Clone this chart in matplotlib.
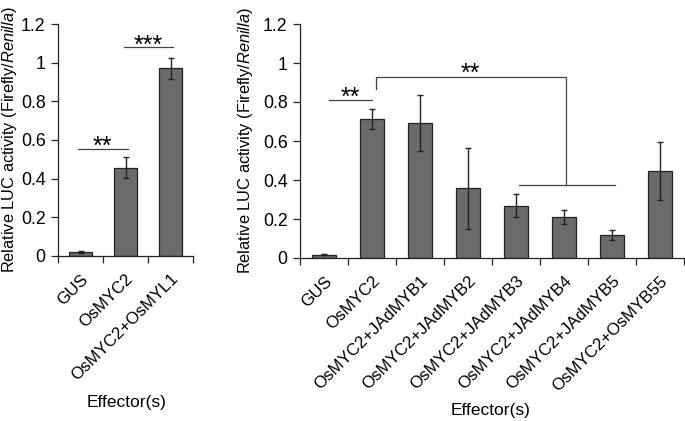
import matplotlib
matplotlib.use("Agg")
import matplotlib.pyplot as plt
import numpy as np
from matplotlib.ticker import FuncFormatter

plt.rcParams['font.family'] = ['Liberation Sans', 'DejaVu Sans']
plt.rcParams['mathtext.fontset'] = 'custom'
plt.rcParams['mathtext.rm'] = 'Liberation Sans'
plt.rcParams['mathtext.it'] = 'Liberation Sans:italic'

left_cats = ["GUS", "OsMYC2", "OsMYC2+OsMYL1"]
left_vals = [0.022, 0.457, 0.970]
left_errs = [0.004, 0.053, 0.055]

right_cats = ["GUS", "OsMYC2", "OsMYC2+JAdMYB1", "OsMYC2+JAdMYB2", "OsMYC2+JAdMYB3",
              "OsMYC2+JAdMYB4", "OsMYC2+JAdMYB5", "OsMYC2+OsMYB55"]
right_vals = [0.017, 0.712, 0.692, 0.358, 0.268, 0.210, 0.118, 0.446]
right_errs = [0.002, 0.051, 0.143, 0.208, 0.060, 0.038, 0.027, 0.150]

yticks = [0, 0.2, 0.4, 0.6, 0.8, 1.0, 1.2]

fig = plt.figure(figsize=(6.85, 4.21), dpi=100)
ax1 = fig.add_axes([58/685, 1-256/421, 135/685, 232/421])
ax2 = fig.add_axes([300/685, 1-258/421, 384/685, 234/421])

bar_color = "#6b6b6b"
edge = "#222222"

def style(ax, cats, vals, errs, width):
    x = np.arange(len(cats))
    ax.bar(x, vals, width=width, color=bar_color, edgecolor=edge, linewidth=0.9)
    ax.errorbar(x, vals, yerr=errs, fmt='none', ecolor=edge, elinewidth=1.0, capsize=2.2, capthick=1.0)
    ax.set_xlim(-0.5, len(cats) - 0.5)
    ax.set_ylim(0, 1.2)
    ax.set_yticks(yticks)
    ax.yaxis.set_major_formatter(FuncFormatter(lambda v, p: "%g" % round(v, 1)))
    ax.set_xticks(x)
    ax.set_xticklabels(cats, rotation=45, ha='right', rotation_mode='anchor', fontsize=12.2)
    ax.tick_params(axis='x', which='major', length=0, pad=11)
    ax.set_xticks(np.arange(len(cats) + 1) - 0.5, minor=True)
    ax.tick_params(axis='x', which='minor', length=5, width=0.9, color=edge)
    ax.tick_params(axis='y', length=5, width=0.9, color=edge, labelsize=12.8, pad=4)
    for s in ['top', 'right']:
        ax.spines[s].set_visible(False)
    for s in ['left', 'bottom']:
        ax.spines[s].set_color(edge)
        ax.spines[s].set_linewidth(0.9)
    ax.set_ylabel("Relative LUC activity (Firefly/$\\it{Renilla}$)", fontsize=11.8)
    ax.set_xlabel("Effector(s)", fontsize=12.5)

style(ax1, left_cats, left_vals, left_errs, 0.5)
style(ax2, right_cats, right_vals, right_errs, 0.52)

ax1.yaxis.set_label_coords(-0.29, 0.5)
ax2.yaxis.set_label_coords(-0.118, 0.5)
ax1.xaxis.set_label_coords(0.51, -0.6)
ax2.xaxis.set_label_coords(0.495, -0.62)

lc = "#444444"
sfs = 18
# left annotations
ax1.plot([-0.05, 1.05], [0.555, 0.555], color=lc, lw=0.9, clip_on=False)
ax1.text(0.48, 0.528, "**", ha='center', va='baseline', fontsize=sfs)
ax1.plot([0.97, 2.06], [1.083, 1.083], color=lc, lw=0.9, clip_on=False)
ax1.text(1.5, 1.05, "***", ha='center', va='baseline', fontsize=sfs, clip_on=False)

# right annotations
ax2.plot([0.1, 1.0], [0.81, 0.81], color=lc, lw=0.9)
ax2.text(0.55, 0.785, "**", ha='center', va='baseline', fontsize=sfs)
ax2.plot([1.08, 1.08, 5.04, 5.04], [0.865, 0.93, 0.93, 0.376], color=lc, lw=0.9)
ax2.plot([4.06, 6.06], [0.376, 0.376], color=lc, lw=0.9)
ax2.text(3.05, 0.908, "**", ha='center', va='baseline', fontsize=sfs)

fig.savefig("out.png", dpi=100)
